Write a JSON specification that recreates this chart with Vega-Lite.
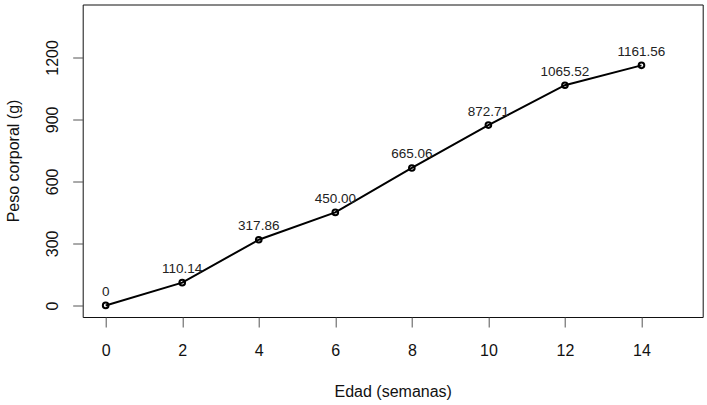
{
  "$schema": "https://vega.github.io/schema/vega-lite/v6.json",
  "width": 620,
  "height": 312.5,
  "autosize": {"type": "none"},
  "padding": {"left": 82.7, "top": 4.5, "right": 4.3, "bottom": 88},
  "background": "white",
  "config": {
    "font": "Liberation Sans",
    "view": {"stroke": "#111", "strokeWidth": 1}
  },
  "data": {
    "values": [
      {"edad": 0, "peso": 0, "label": "0"},
      {"edad": 2, "peso": 110.14, "label": "110.14"},
      {"edad": 4, "peso": 317.86, "label": "317.86"},
      {"edad": 6, "peso": 450.0, "label": "450.00"},
      {"edad": 8, "peso": 665.06, "label": "665.06"},
      {"edad": 10, "peso": 872.71, "label": "872.71"},
      {"edad": 12, "peso": 1065.52, "label": "1065.52"},
      {"edad": 14, "peso": 1161.56, "label": "1161.56"}
    ]
  },
  "encoding": {
    "x": {
      "field": "edad",
      "type": "quantitative",
      "scale": {"domain": [-0.6, 15.6], "nice": false, "zero": false},
      "axis": {
        "values": [0, 2, 4, 6, 8, 10, 12, 14],
        "format": "d",
        "grid": false,
        "domain": false,
        "tickColor": "#555",
        "tickSize": 10,
        "tickWidth": 1,
        "labelFontSize": 16,
        "labelColor": "#111",
        "labelBaseline": "alphabetic",
        "labelPadding": 28,
        "labelFlush": false,
        "title": "Edad (semanas)",
        "titleFontSize": 16,
        "titleFontWeight": "normal",
        "titleColor": "#111",
        "titleBaseline": "alphabetic",
        "titleX": 310,
        "titleY": 79
      }
    },
    "y": {
      "field": "peso",
      "type": "quantitative",
      "scale": {"domain": [-56, 1456], "nice": false, "zero": false},
      "axis": {
        "values": [0, 300, 600, 900, 1200],
        "format": "d",
        "grid": false,
        "domain": false,
        "tickColor": "#555",
        "tickSize": 10,
        "tickWidth": 1,
        "labelFontSize": 16,
        "labelColor": "#111",
        "labelAngle": -90,
        "labelAlign": "center",
        "labelBaseline": "alphabetic",
        "labelPadding": 15,
        "labelFlush": false,
        "title": "Peso corporal (g)",
        "titleFontSize": 16,
        "titleFontWeight": "normal",
        "titleColor": "#111",
        "titleAngle": -90,
        "titleAlign": "center",
        "titleBaseline": "alphabetic",
        "titleX": -64.5,
        "titleY": 156
      }
    }
  },
  "layer": [
    {
      "mark": {"type": "line", "color": "black", "strokeWidth": 2}
    },
    {
      "mark": {"type": "point", "shape": "circle", "filled": false, "stroke": "black", "strokeWidth": 2, "size": 32, "opacity": 1}
    },
    {
      "mark": {"type": "text", "fontSize": 13.5, "color": "#222", "baseline": "alphabetic", "align": "center", "dy": -9.5},
      "encoding": {"text": {"field": "label", "type": "nominal"}}
    }
  ]
}
